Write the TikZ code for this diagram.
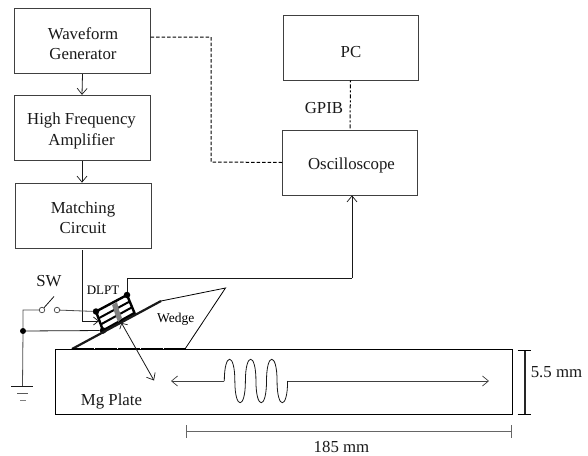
\documentclass[tikz,border=0pt]{standalone}
\usepackage{fontspec}
\setmainfont{Liberation Serif}
\usetikzlibrary{arrows.meta,calc}
\tikzset{
  box/.style={draw=black!75,line width=0.8pt,inner sep=0pt},
  boxtext/.style={inner sep=0pt,align=center,text=black!90,font=\fontsize{16.8}{20.5}\selectfont},
  lab/.style={inner sep=0pt,text=black!90,font=\fontsize{16.8}{20}\selectfont},
  smalllab/.style={inner sep=0pt,font=\fontsize{13}{15}\selectfont},
  wire/.style={line width=0.8pt,black!90},
  sig/.style={wire,-{Straight Barb[length=6pt,width=10pt,line width=0.7pt]}},
  dashwire/.style={line width=1pt,black,dash pattern=on 3.5pt off 2pt},
  dotnode/.style={circle,fill=black,draw=none,minimum size=6.5pt,inner sep=0pt},
  opennode/.style={circle,draw=black!75,fill=white,line width=0.7pt,minimum size=5.5pt,inner sep=0pt},
  xducer/.style={line width=2.4pt,black},
}
\begin{document}
\begin{tikzpicture}[x=1pt,y=-1pt]
\useasboundingbox (0,0) rectangle (588,455);
% boxes
\node[box,minimum width=135.5pt,minimum height=65.5pt] (wg) at (82.5,41) {};
\node[box,minimum width=136pt,minimum height=65.5pt] (hf) at (82,128) {};
\node[box,minimum width=136pt,minimum height=65pt] (mc) at (83,215.5) {};
\node[box,minimum width=135pt,minimum height=65pt] (pc) at (350.5,47.5) {};
\node[box,minimum width=135pt,minimum height=65pt] (os) at (350,162.5) {};
\node[boxtext] (wgt) at (83,43.5) {Waveform\\Generator};
\node[boxtext] (hft) at (81.5,131) {High Frequency\\Amplifier};
\node[boxtext] (mct) at (83,217.5) {Matching\\Circuit};
\node[boxtext] (pct) at (351,52) {PC};
\node[boxtext] (ost) at (351.5,165) {Oscilloscope};
% plate
\node[draw=black,line width=0.9pt,inner sep=0pt,minimum width=457pt,minimum height=65pt] (plate) at (283.5,381.5) {};
% block connectors
\draw[sig] (wg.south) -- (hf.north);
\draw[sig] (hf.south) -- (hf.south |- mc.north);
\draw[dashwire] (wg.east |- 0,37) -- (211,37) -- (211,162) -- (os.west);
\draw[dashwire,dash pattern=on 2pt off 2pt on 4pt off 2pt] (pc.south) -- (os.north);
% transducer
\coordinate (ta) at (96,311.5);
\coordinate (tb) at (127,295);
\coordinate (tc) at (134.5,313);
\coordinate (td) at (103,330.5);
\draw[xducer] (ta) -- (tb) -- (tc) -- (td) -- cycle;
\draw[xducer,line width=2pt] ($(ta)!0.36!(td)$) -- ($(tb)!0.36!(tc)$);
\draw[xducer,line width=2pt] ($(ta)!0.68!(td)$) -- ($(tb)!0.68!(tc)$);
\fill[black!50] (112,305) -- (117,302) -- (119,310) -- (122,318) -- (118,322) -- (115,314) -- cycle;
\node[dotnode] (da) at (ta) {};
\node[dotnode] (db) at (tb) {};
\node[dotnode] (dd) at (td) {};
% wedge
\coordinate (w0) at (72,349);
\coordinate (w1) at (161,301);
\coordinate (w2) at (225.5,288);
\coordinate (w3) at (185,349);
\draw[line width=2.2pt,black!90] (w0) -- (w1);
\draw[line width=0.8pt,black] (w1) -- (w2) -- (w3);
\draw[line width=1.9pt,black,dash pattern=on 22pt off 1pt] (w0) -- (187,349);
% drive and receive lines
\draw[wire,line width=1pt] (db) -- (127,278) -- (352,278);
\draw[sig] (352,278) -- (352,0 |- os.south);
\draw[wire,-{Straight Barb[length=5pt,width=8pt,line width=0.7pt]}] ($(mc.south)+(-1,2)$) -- (82,321) -- (99,321);
% switch and ground
\node[opennode] (s1) at (42,310) {};
\node[opennode] (s2) at (57,310) {};
\coordinate (arm) at (54,296.5);
\draw[wire] (s1) -- (arm);
\draw[wire,black!70] (s2) -- (da);
\node[dotnode,minimum size=6pt] (junc) at (23,331) {};
\coordinate (gt) at (22.5,386.5);
\draw[wire,black!70] (s1) -- (23,310) -- (junc) -- (gt);
\draw[wire] (junc) -- (dd);
\draw[wire] (11,386.5) -- (33,386.5);
\draw[wire,black!65] (17,393) -- (28,393);
\draw[wire,black!50] (20,400) -- (26,400);
% beam
\draw[wire,{Straight Barb[length=4pt,width=9pt,line width=0.7pt]}-{Straight Barb[length=6pt,width=10pt,line width=0.7pt]}] (121.5,323) -- (154,380.5);
% wave
\draw[sig,black!75] (224.3,381) -- (171,381);
\draw[line width=0.8pt,black!90]
  (224.3,381)
  \foreach \k in {0,1,2} {
    .. controls ({224.3+21.1*\k},{381-29}) and ({224.3+21.1*\k+10.55},{381-29}) .. ({224.3+21.1*\k+10.55},381)
    .. controls ({224.3+21.1*\k+10.55},{381+29}) and ({224.3+21.1*\k+21.1},{381+29}) .. ({224.3+21.1*\k+21.1},381)
  };
\draw[sig,black!75] (287.6,381) -- (489,381);
% dimensions
\draw[line width=1.7pt,black!85] (525,350) -- (525,414);
\draw[line width=0.8pt,black] (517.5,350) -- (531,350) (517.5,414) -- (531,414);
\draw[line width=0.7pt,black!60] (186.3,425) -- (186.3,438) (186.3,431.7) -- (511.6,431.7) (511.6,425) -- (511.6,438);
% labels
\node[lab] (l1) at (556.5,372) {5.5 mm};
\node[lab] (l2) at (341.5,447) {185 mm};
\node[lab] (l3) at (111.5,401.5) {Mg Plate};
\node[smalllab,font=\fontsize{13.5}{15}\selectfont] (l4) at (175.7,319.5) {Wedge};
\node[smalllab] (l5) at (103,290.5) {DLPT};
\node[lab] (l6) at (49,281) {SW};
\node[lab] (l7) at (324,108.5) {GPIB};
\end{tikzpicture}
\end{document}
